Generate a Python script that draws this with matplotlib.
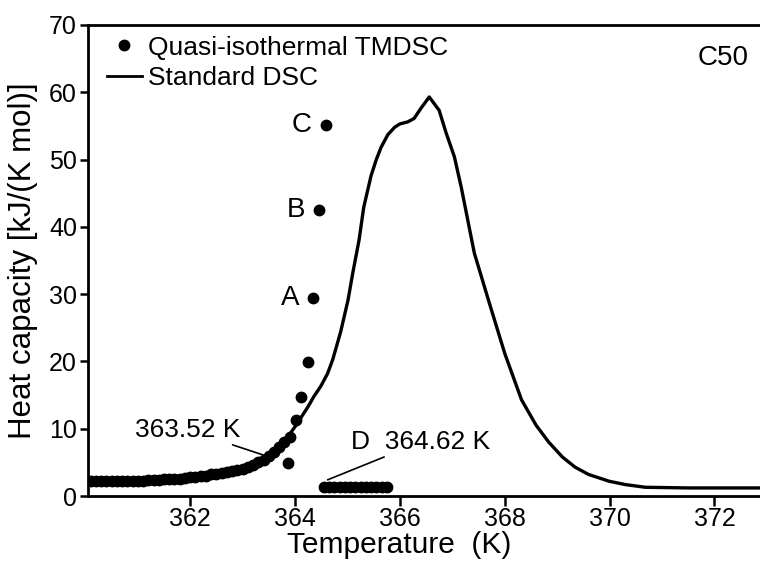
import matplotlib
matplotlib.use("Agg")
import matplotlib.pyplot as plt
from matplotlib.lines import Line2D

plt.rcParams['font.family'] = ['Liberation Sans', 'DejaVu Sans']

# standard DSC curve (T in K, Cp in kJ/(K mol))
dsc_T = [360.05, 360.5, 361.0, 361.5, 362.0, 362.5, 362.96, 363.2, 363.47, 363.7,
         363.86, 364.0, 364.1, 364.25, 364.36, 364.49, 364.62, 364.72, 364.87, 365.01,
         365.10, 365.22, 365.31, 365.45, 365.55, 365.64, 365.77, 365.9, 366.0, 366.15,
         366.27, 366.4, 366.56, 366.75, 366.88, 367.04, 367.17, 367.42, 367.69, 368.0,
         368.32, 368.6, 368.84, 369.1, 369.34, 369.6, 369.99, 370.3, 370.68, 371.5,
         372.9]
dsc_cp = [2.2, 2.2, 2.3, 2.5, 2.8, 3.2, 3.9, 4.6, 5.8, 7.2,
          8.8, 10.3, 11.5, 13.3, 14.8, 16.3, 18.2, 20.3, 24.4, 29.1,
          33.1, 38.0, 42.9, 47.6, 50.0, 51.8, 53.7, 54.8, 55.3, 55.6,
          56.1, 57.6, 59.3, 57.3, 54.0, 50.4, 45.9, 36.1, 29.1, 21.2,
          14.3, 10.5, 8.0, 5.8, 4.3, 3.2, 2.2, 1.7, 1.3, 1.2,
          1.2]

# quasi-isothermal TMDSC points
tm_T = [360.1, 360.2, 360.3, 360.4, 360.5, 360.6, 360.7, 360.8, 360.9, 361.0,
        361.1, 361.2, 361.3, 361.4, 361.5, 361.6, 361.7, 361.8, 361.9, 362.0,
        362.1, 362.2, 362.3, 362.4, 362.5, 362.6, 362.7, 362.8, 362.9, 363.0,
        363.1, 363.2, 363.3, 363.4, 363.5, 363.6, 363.7, 363.78,
        363.86, 363.91, 364.01, 364.12, 364.24, 364.34, 364.45, 364.59]
tm_cp = [2.2, 2.2, 2.2, 2.2, 2.2, 2.2, 2.3, 2.3, 2.3, 2.3,
         2.3, 2.4, 2.4, 2.4, 2.5, 2.5, 2.6, 2.6, 2.7, 2.8,
         2.8, 2.9, 3.0, 3.2, 3.3, 3.4, 3.5, 3.7, 3.8, 4.0,
         4.3, 4.6, 5.0, 5.4, 6.0, 6.6, 7.3, 8.0,
         4.9, 8.8, 11.3, 14.7, 19.9, 29.4, 42.5, 55.1]

# point D: after the jump, low plateau
d_T = [364.55, 364.65, 364.75, 364.85, 364.95, 365.05, 365.15, 365.25, 365.35,
       365.45, 365.55, 365.65, 365.75]
d_cp = [1.3, 1.3, 1.3, 1.3, 1.3, 1.3, 1.3, 1.3, 1.3, 1.3, 1.3, 1.3, 1.3]

labelled = {"A": (364.34, 29.4), "B": (364.45, 42.5), "C": (364.59, 55.1)}

fig = plt.figure(figsize=(7.6, 5.65), dpi=100)
ax = fig.add_axes([0.1158, 0.1221, 0.8842, 0.8337])

ax.plot(dsc_T, dsc_cp, color='black', lw=2.4, zorder=2)
ax.plot(tm_T, tm_cp, 'o', color='black', ms=7.5, ls='none', zorder=3)
ax.plot(d_T, d_cp, 'o', color='black', ms=7.5, ls='none', zorder=3)

for lab, (x, y) in labelled.items():
    ax.annotate(lab, (x, y), xytext=(-10, 0), textcoords='offset points',
                ha='right', va='center', fontsize=20)

ax.annotate("363.52 K", xy=(363.47, 5.9), xytext=(362.96, 9.8),
            ha='right', va='center', fontsize=19,
            arrowprops=dict(arrowstyle='-', color='black', lw=1.2,
                            shrinkA=0, shrinkB=0))
ax.annotate("D  364.62 K", xy=(364.62, 2.4), xytext=(365.07, 8.0),
            ha='left', va='center', fontsize=19,
            arrowprops=dict(arrowstyle='-', color='black', lw=1.2,
                            shrinkA=0, shrinkB=0))

ax.text(0.945, 0.93, "C50", transform=ax.transAxes, ha='center', va='center',
        fontsize=20)

handles = [Line2D([], [], marker='o', color='black', ls='none', ms=7.5),
           Line2D([], [], color='black', lw=2)]
ax.legend(handles, ["Quasi-isothermal TMDSC", "Standard DSC"],
          loc='upper left', bbox_to_anchor=(0.012, 1.0), frameon=False,
          fontsize=19, handlelength=1.35, handletextpad=0.2,
          labelspacing=0.25, borderpad=0.2, borderaxespad=0.2)

ax.set_xlim(360.05, 372.87)
ax.set_ylim(0, 70)
ax.set_xticks([362, 364, 366, 368, 370, 372])
ax.set_yticks([0, 10, 20, 30, 40, 50, 60, 70])
ax.tick_params(direction='out', length=6, width=1.8, labelsize=18, pad=2)
ax.tick_params(axis='x', length=7, pad=1)
ax.spines['right'].set_visible(False)
for s in ['left', 'bottom', 'top']:
    ax.spines[s].set_linewidth(2)

ax.set_xlabel("Temperature  (K)", fontsize=21.5, labelpad=0, x=0.463)
ax.set_ylabel("Heat capacity [kJ/(K mol)]", fontsize=22.5, labelpad=8)

fig.savefig("out.png", dpi=100)
